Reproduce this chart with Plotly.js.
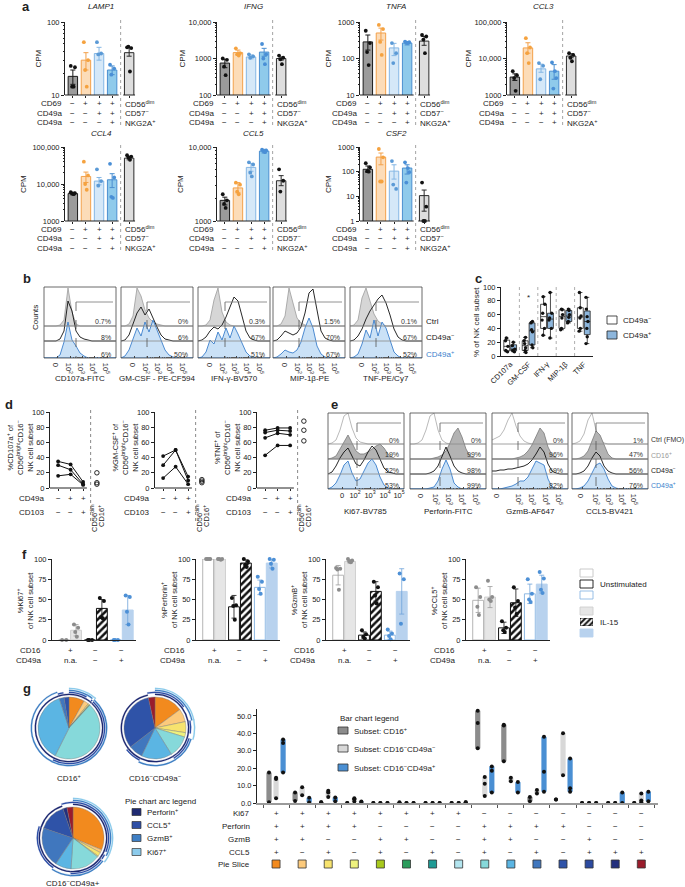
<!DOCTYPE html>
<html><head><meta charset="utf-8">
<script src="https://cdn.plot.ly/plotly-3.0.1.min.js"></script>
<style>html,body{margin:0;padding:0;background:#fff}#plot{width:685px;height:887px}</style>
</head><body><div id="plot"></div>
<script>
// ======================= DATA =======================
// ---- Panel a : CPM per subset (bars: CD69-, CD69+, CD69+CD49a+, CD69+CD49a+CD103+, CD56dim) ----
const aGenes = ['LAMP1','IFNG','TNFA','CCL3','CCL4','CCL5','CSF2'];
const aMean = [
  [18,30,37,22,38],
  [750,1450,1100,1500,1000],
  [285,500,195,265,300],
  [3100,19500,5200,4500,11700],
  [5500,16000,12000,13000,50000],
  [1900,2800,5300,8800,3500],
  [125,390,105,140,10.7]
];
const aErrHi = [
  [22,38,45,25,45],
  [950,1700,1250,1900,1100],
  [440,680,260,290,400],
  [3800,27000,7000,6800,13500],
  [6000,21000,15000,19000,56000],
  [2100,3300,6000,9300,4100],
  [170,570,190,190,18]
];
const aErrLo = [
  [14,22,30,19,34],
  [560,1250,980,1150,900],
  [170,320,120,235,230],
  [2500,14000,4200,2700,10500],
  [5100,11000,9500,8000,45000],
  [1650,2400,4700,8300,3000],
  [95,190,50,80,2.5]
];
const aDots = [
  [[25,24,13,13],[53,30,22,13],[53,37,36],[26,23,19],[45,44,46,21]],
  [[1000,920,600,350],[1900,1400,1300,1200],[1300,1150,1050],[2500,1300,1000,700],[1200,1050,950,700]],
  [[575,265,150,66],[830,640,285,125],[265,140,75],[290,280,270,265],[440,400,330,140]],
  [[4500,3500,2900,1300],[36000,20000,14000,7500],[7500,6300,2700],[7800,2900,1500,4500],[14000,12500,10500,8400]],
  [[6000,5700,5500,5300],[40000,17000,10000,7000],[25000,12000,9000],[35000,15000,4500,4200],[60000,55000,52000,45000]],
  [[2300,1900,1700,1500],[3300,3100,2500,2300],[6200,5800,4500,4000],[9200,9000,8800,8500],[5000,3500,2500]],
  [[220,150,105,100],[830,380,40,40],[270,20,30],[240,95,36,140],[36,3.8,1,1]]
];
const aTickVals = [[10,100],[100,1000,10000],[10,100,1000],[1000,10000,100000],[1000,10000,100000],[1000,10000],[1,10,100,1000]];
const aRanges = [[1,2],[2,4],[1,3],[3,5],[3,5],[3,4],[0,3]];
const aRowLabels = ['CD69','CD49a','CD49a'];
const aSigns = [['−','+','+','+'],['−','−','+','+'],['−','−','−','+']];
const aRefLabels = ['CD56<sup>dim</sup>','CD57<sup>−</sup>','NKG2A<sup>+</sup>'];

// ---- Panel b : flow histograms (heights on a fixed fluorescence grid) ----
const bChannels = ['CD107a-FITC','GM-CSF - PE-CF594','IFN-γ-BV570','MIP-1β-PE','TNF-PE/Cy7'];
const bPct = [['0.7%','8%','6%'],['0%','6%','50%'],['0.3%','67%','51%'],['1.5%','70%','67%'],['0.1%','67%','52%']];
const bRowNames = ['Ctrl','CD49a<sup>−</sup>','CD49a<sup>+</sup>'];
const bCtrl = [
  [0,0,0,0,1,6,38,14,2,0,0,0,0,0,0,0,0,0,0],
  [0,0,2,10,38,30,16,8,4,2,1,0,0,0,0,0,0,0,0],
  [0,0,1,6,26,38,14,4,1,0,0,0,0,0,0,0,0,0,0],
  [0,0,2,10,38,24,8,3,1,0,0,0,0,0,0,0,0,0,0],
  [0,1,6,28,38,24,12,5,2,0,0,0,0,0,0,0,0,0,0]
];
const bNeg = [
  [0,0,0,0,2,10,40,30,10,4,2,1,0,0,0,0,0,0,0],
  [0,1,6,16,28,34,26,32,22,14,6,2,1,0,0,0,0,0,0],
  [0,1,4,10,14,12,16,24,34,44,40,24,10,3,1,0,0,0,0],
  [0,1,5,10,8,6,8,14,28,48,52,30,10,3,1,0,0,0,0],
  [0,1,5,12,22,30,36,42,46,38,26,12,4,1,0,0,0,0,0]
];
const bPos = [
  [0,0,0,0,3,16,36,18,12,5,2,0,0,0,0,0,0,0,0],
  [0,2,8,20,30,22,36,26,38,28,18,8,3,1,0,0,0,0,0],
  [0,1,6,18,14,26,18,30,20,32,24,14,6,2,0,0,0,0,0],
  [0,1,4,8,6,5,8,16,30,40,30,12,4,1,0,0,0,0,0],
  [0,1,4,14,28,20,38,22,36,30,18,6,2,0,0,0,0,0,0]
];

// ---- Panel c : % of NK cell subset ----
const cCats = ['CD107a','GM-CSF','IFN-γ','MIP-1β','TNF'];
const cNeg = [[26,22,14,8,6],[27,22,18,12,8,5],[86,75,62,52,40,30],[68,67,60,55,40,38],[92,70,58,55,40,36]];
const cPos = [[20,15,10,8,6],[50,48,38,35,16,12],[92,62,55,52,40,26],[68,66,60,56,50,48],[85,68,57,50,40,28,18]];

// ---- Panel d : paired donors ----
const dCD49a = ['−','+','+'];
const dCD103 = ['−','−','+'];
const dCD107a = [[35,31,8],[30,24,5],[16,18,4]];
const dCD107aRef = [20,7,5];
const dGMCSF = [[42,50,15],[30,50,10],[13,28,5]];
const dGMCSFRef = [11,9,7];
const dTNF = [[76,79,79],[73,76,75],[66,72,70],[43,56,56]];
const dTNFRef = [88,76,62];
const dYLabels = ['%CD107a<sup>+</sup> of<br>CD56<sup>bright</sup>CD16<sup>−</sup><br>NK cell subset',
                  '%GM-CSF<sup>+</sup> of<br>CD56<sup>bright</sup>CD16<sup>−</sup><br>NK cell subset',
                  '%TNF<sup>+</sup> of<br>CD56<sup>bright</sup>CD16<sup>−</sup><br>NK cell subset'];

// ---- Panel e : flow histograms ----
const eChannels = ['Ki67-BV785','Perforin-FITC','GzmB-AF647','CCL5-BV421'];
const ePct = [['0%','19%','52%','53%'],['0%','99%','98%','99%'],['0%','96%','69%','82%'],['1%','47%','56%','76%']];
const eRowNames = ['Ctrl (FMO)','CD16<sup>+</sup>','CD49a<sup>−</sup>','CD49a<sup>+</sup>'];
const eCtrl = [
  [0,1,4,14,28,31,16,6,2,1,0,0,0,0,0,0,0,0,0,0],
  [0,0,1,4,14,28,31,14,4,1,0,0,0,0,0,0,0,0,0,0],
  [4,6,8,14,24,31,18,8,3,1,0,0,0,0,0,0,0,0,0,0],
  [0,1,3,10,24,31,14,5,1,0,0,0,0,0,0,0,0,0,0,0]
];
const eCD16 = [
  [0,1,3,10,18,24,16,8,5,5,7,10,13,15,11,5,2,0,0,0],
  [0,0,0,0,0,0,1,2,4,8,16,26,31,22,10,3,1,0,0,0],
  [0,0,0,0,0,0,1,2,4,8,14,22,31,26,12,4,1,0,0,0],
  [0,0,1,3,8,18,28,24,14,5,1,0,0,0,0,0,0,0,0,0]
];
const eNeg = [
  [0,2,8,16,22,26,18,10,8,14,22,28,24,14,6,2,1,0,0,0],
  [0,0,0,0,0,1,3,8,18,27,18,8,3,1,0,0,0,0,0,0],
  [3,3,4,4,5,5,6,7,8,10,14,20,27,22,10,3,1,0,0,0],
  [0,0,1,3,8,16,22,18,8,3,1,0,0,0,0,0,0,0,0,0]
];
const ePos = [
  [0,2,6,14,24,28,16,8,10,18,26,30,24,12,4,1,0,0,0,0],
  [0,0,0,0,0,1,2,8,20,29,20,6,2,0,0,0,0,0,0,0],
  [0,0,0,1,2,3,5,8,8,12,20,28,26,24,10,2,0,0,0,0],
  [0,0,1,3,8,16,24,26,20,10,3,1,0,0,0,0,0,0,0,0]
];

// ---- Panel f : unstimulated vs IL-15 ----
const fCD16 = ['+','−','−'];
const fCD49a = ['n.a.','−','+'];
const fYLabels = ['%Ki67<sup>+</sup><br>of NK cell subset','%Perforin<sup>+</sup><br>of NK cell subset','%GzmB<sup>+</sup><br>of NK cell subset','%CCL5<sup>+</sup><br>of NK cell subset'];
const fUnMean = [[0,0,0],[100,41,65],[80,6,6],[49,15,57]];
const fUnSd   = [[0,0,0],[0,14,9],[12,4,5],[15,7,12]];
const fIlMean = [[12,39,37],[100,95,95],[97,60,60],[53,46,69]];
const fIlSd   = [[7,11,18],[0,4,6],[2,12,28],[13,17,11]];
const fUnDots = [
  [[0,0],[0,0,0],[0,0,0]],
  [[100,100,100,100],[52,43,42,25],[78,72,63,57]],
  [[89,88,87,62],[12,7,4,2],[13,8,5,1]],
  [[65,53,41,31],[23,15,12,10],[75,57,50,47]]
];
const fIlDots = [
  [[19,15,10,4],[52,48,28,27],[55,53,35,19]],
  [[100,100,100,99],[100,97,93,90],[100,99,94,88]],
  [[100,98,97,96],[72,65,55,45],[82,75,20]],
  [[73,53,50,48],[65,48,40,32],[84,76,62,58]]
];

// ---- Panel g : Boolean combinations ----
const gKi67 = ['+','+','+','+','+','+','+','+','−','−','−','−','−','−','−'];
const gPerf = ['+','+','+','+','−','−','−','−','+','+','+','+','−','−','−'];
const gGzmB = ['+','+','−','−','+','+','−','−','+','+','−','−','+','−','−'];
const gCCL5 = ['+','−','+','−','+','−','+','−','+','−','+','−','+','+','+'];
const gSliceColors = ['#f28a1e','#fcca7c','#f7e36e','#eef27e','#a8c91c','#2b9c5c','#1f9b95','#b3e5ef','#86d9da','#5bb5e3','#4077be','#2f53a8','#2c4aa0','#232f7d','#9a1c2b'];
const gDotsCD16 = [[17.5,0.5],[6,1.2],[0.5,0.5],[0,0],[0,0],[0.5,0],[0,0],[0,0],[53,46,31.4],[45,44.5,24],[3.5,1],[2,2],[0,0],[0,0],[0,0]];
const gDotsNeg  = [[14.5,13.8,2.8],[9,4.5],[7,6,3.5],[2.8,2.2,0.8],[0,0],[0,0],[0,0],[0,0],[15,11,4],[14.5,12.5],[7.5,5.5],[40,16],[0,0],[0,0],[5.5,1.5,0.5]];
const gDotsPos  = [[36.5,34.5,17.5],[3,0.5],[3.2,1],[0.8,0.5],[0,0],[0,0],[0,0],[0.5,0.5],[21,18.5,6],[12,6],[38,18,6.5],[25.5,8.5,6.5],[0,0],[6,0],[6.5,1]];
const gPie1 = [8,2.5,0.6,0.3,0,0.2,0,0,45,37,2.5,2.5,0,0,0];
const gPie2 = [13,6,5,2,0,0,0,0,10,14,6.5,28,0,0,3];
const gPie3 = [30,1.5,2,0.5,0,0,0,0,15,8,20,14,0,2,3];
const gPieNames = ['CD16<sup>+</sup>','CD16<sup>−</sup>CD49a<sup>−</sup>','CD16<sup>−</sup>CD49a+'];
const gArcNames = ['Perforin<sup>+</sup>','CCL5<sup>+</sup>','GzmB<sup>+</sup>','Ki67<sup>+</sup>'];
const gSubsetNames = ['Subset: CD16<sup>+</sup>','Subset: CD16<sup>−</sup>CD49a<sup>−</sup>','Subset: CD16<sup>−</sup>CD49a<sup>+</sup>'];

// ======================= BUILD =======================
const W = 685, H = 887;
const FONT = 'Liberation Sans, Arial, Helvetica, sans-serif';
const INK = '#222';
const traces = [];
const layout = {width:W, height:H, margin:{l:0,r:0,t:0,b:0}, showlegend:false,
  paper_bgcolor:'#fff', plot_bgcolor:'rgba(0,0,0,0)', font:{family:FONT, size:8, color:INK},
  barmode:'overlay', boxmode:'group', boxgap:0.25, boxgroupgap:0.15, annotations:[], shapes:[]};
let nAx = 0;
function mkAx(x0,x1,top,bottom,xo,yo){
  nAx++; const s = nAx===1 ? '' : String(nAx);
  const base = {showgrid:false, zeroline:false, showline:false, ticks:'', showticklabels:false, fixedrange:true, tickfont:{size:7.5, color:INK, family:FONT}, linecolor:INK, tickcolor:INK};
  layout['xaxis'+s] = Object.assign({}, base, {domain:[x0/W, x1/W], anchor:'y'+s}, xo||{});
  layout['yaxis'+s] = Object.assign({}, base, {domain:[1-bottom/H, 1-top/H], anchor:'x'+s}, yo||{});
  return {x:'x'+s, y:'y'+s, s:s};
}
function T(px,py,text,o){o=o||{}; layout.annotations.push({x:px/W, y:1-py/H, xref:'paper', yref:'paper', text:text, showarrow:false, xanchor:o.xa||'center', yanchor:o.ya||'middle', textangle:o.ang||0, font:{family:FONT, size:o.sz||8, color:o.c||INK}});}
function TA(xid,xv,py,text,o){o=o||{}; layout.annotations.push({x:xv, xref:xid, y:1-py/H, yref:'paper', text:text, showarrow:false, xanchor:'center', yanchor:'middle', font:{family:FONT, size:o.sz||8, color:o.c||INK}});}
function L(x0,y0,x1,y1,o){o=o||{}; layout.shapes.push({type:'line', xref:'paper', yref:'paper', x0:x0/W, x1:x1/W, y0:1-y0/H, y1:1-y1/H, line:{color:o.c||INK, width:o.w||1, dash:o.d||'solid'}});}
function R(x0,y0,x1,y1,o){o=o||{}; layout.shapes.push({type:'rect', xref:'paper', yref:'paper', x0:x0/W, x1:x1/W, y0:1-y1/H, y1:1-y0/H, fillcolor:o.f||'rgba(0,0,0,0)', line:{color:o.c||INK, width:o.w==null?1:o.w}});}
function fmtN(v){return v>=10000 ? v.toLocaleString('en-US') : String(v);}
const supTicks = ['0','10<sup>2</sup>','10<sup>3</sup>','10<sup>4</sup>','10<sup>5</sup>'];

// panel letters
T(20,6,'<b>a</b>',{xa:'left',sz:13});
T(21,279,'<b>b</b>',{xa:'left',sz:13});
T(473,279,'<b>c</b>',{xa:'left',sz:13});
T(3,404,'<b>d</b>',{xa:'left',sz:13});
T(329,404,'<b>e</b>',{xa:'left',sz:13});
T(20,554,'<b>f</b>',{xa:'left',sz:13});
T(21,688,'<b>g</b>',{xa:'left',sz:13});

// ---------- Panel a ----------
const aCols = [65,217,360,507];
const aRows = [{top:22,bottom:95,t:7,tbl:[104,113,123]},{top:147,bottom:221,t:133,tbl:[229,238,248]}];
const aCpmOff = [27,35,32,39,42,37,32];
const aX = [0,1,2,3,4.3];
const aFill = ['#9b9b9b','#fcdcb8','#d5e8f8','#8fcaeb','#dedede'];
const aLine = ['#1a1a1a','#f3a04a','#84b6e4','#4b8fd0','#2a2a2a'];
const aDotCol = ['#111','#f5a23f','#5b9ad6','#4a8fd6','#111'];
const aJit = [-0.16,0.16,-0.06,0.06,0];
aGenes.forEach((gene,g)=>{
  const col = g<4 ? g : g-4, row = g<4 ? 0 : 1;
  const A = aCols[col], RW = aRows[row];
  const lo = aRanges[g][0], hi = aRanges[g][1];
  const minor = []; for(let d=lo; d<hi; d++) for(let k=2;k<10;k++) minor.push(k*Math.pow(10,d));
  const ax = mkAx(A, A+72, RW.top, RW.bottom,
    {range:[-0.6,4.9], ticks:'outside', ticklen:2, tickvals:aX},
    {type:'log', range:[lo,hi], tickmode:'array', tickvals:aTickVals[g], ticktext:aTickVals[g].map(fmtN), ticks:'outside', ticklen:3, showline:true, linewidth:1, showticklabels:true,
     minor:{tickmode:'array', tickvals:minor, ticks:'outside', ticklen:1.5, tickcolor:INK}});
  for(let i=0;i<5;i++){
    const m = aMean[g][i];
    traces.push({type:'bar', x:[aX[i]], y:[m], width:0.72, xaxis:ax.x, yaxis:ax.y, hoverinfo:'skip',
      marker:{color:aFill[i], line:{color:aLine[i], width:1}},
      error_y:{type:'data', symmetric:false, array:[aErrHi[g][i]-m], arrayminus:[m-aErrLo[g][i]], color:aLine[i], thickness:1, width:2.5}});
  }
  const dx=[], dy=[], dc=[];
  aDots[g].forEach((arr,i)=>arr.forEach((v,k)=>{dx.push(aX[i]+aJit[k%aJit.length]); dy.push(v); dc.push(aDotCol[i]);}));
  traces.push({type:'scatter', mode:'markers', x:dx, y:dy, marker:{color:dc, size:3.8}, xaxis:ax.x, yaxis:ax.y, cliponaxis:false, hoverinfo:'skip'});
  const yd = (ax.y)+' domain';
  layout.shapes.push({type:'line', xref:ax.x, yref:yd, x0:-0.6, x1:3.5, y0:0, y1:0, line:{color:INK, width:1}});
  layout.shapes.push({type:'line', xref:ax.x, yref:yd, x0:3.85, x1:4.75, y0:0, y1:0, line:{color:INK, width:1}});
  layout.shapes.push({type:'line', xref:ax.x, yref:'paper', x0:3.65, x1:3.65, y0:1-(RW.top-2)/H, y1:1-(RW.tbl[2]+4)/H, line:{color:'#9a9a9a', width:0.9, dash:'dot'}});
  T(A+36, RW.t, '<i>'+gene+'</i>', {sz:8});
  T(A-aCpmOff[g], (RW.top+RW.bottom)/2, 'CPM', {ang:-90, sz:8});
  aRowLabels.forEach((lab,r)=>{
    T(A-1, RW.tbl[r], lab, {xa:'right'});
    aSigns[r].forEach((sg,i)=>TA(ax.x, aX[i], RW.tbl[r], sg));
    T(A+58, RW.tbl[r], aRefLabels[r], {xa:'left'});
  });
});

// ---------- flow histogram helper ----------
function hist(ax, grid, base, h, fill, lineCol, lw){
  const ys = h.map(v=>base+v);
  if(fill){
    return {type:'scatter', mode:'lines', x:grid.concat([grid[grid.length-1], grid[0]]), y:ys.concat([base,base]), fill:'toself', fillcolor:fill, line:{color:lineCol, width:lw}, xaxis:ax.x, yaxis:ax.y, hoverinfo:'skip'};
  }
  return {type:'scatter', mode:'lines', x:grid, y:ys, line:{color:lineCol, width:lw}, xaxis:ax.x, yaxis:ax.y, hoverinfo:'skip'};
}
function decadeMinor(ticks){
  const out=[]; for(let d=1; d<ticks.length-1; d++){ const step=ticks[d+1]-ticks[d]; for(let k=2;k<10;k++) out.push(ticks[d]+Math.log10(k)*step); }
  return out;
}

// ---------- Panel b ----------
const bBoxX = [44,121,198,273,350], bW = 72, bTop = 287, bBot = 358;
const bBase = [32,17,0];
const bGate = [32,26,27,26,26];
const bTicks = [13,26,38,50,63];
const bGrid = []; for(let i=0;i<=72;i+=4) bGrid.push(i);
bBoxX.forEach((bx,k)=>{
  const ax = mkAx(bx, bx+bW, bTop, bBot,
    {range:[0,bW], tickvals:bTicks, ticktext:supTicks, ticks:'inside', ticklen:2, tickcolor:'#444', showticklabels:true,
     minor:{tickmode:'array', tickvals:decadeMinor(bTicks), ticks:'inside', ticklen:1.2, tickcolor:'#666'}},
    {range:[0,bBot-bTop]});
  traces.push(hist(ax,bGrid,bBase[0],bCtrl[k],'#d6d6d6','#9c9c9c',0.8));
  traces.push(hist(ax,bGrid,bBase[1],bNeg[k],null,'#111',0.9));
  traces.push(hist(ax,bGrid,bBase[2],bPos[k],'rgba(196,222,245,0.9)','#3b7fcc',0.9));
  R(bx,bTop,bx+bW,bBot,{c:'#444',w:0.8});
  L(bx,bBot-bBase[0],bx+bW,bBot-bBase[0],{c:'#8a8a8a',w:0.8});
  L(bx,bBot-bBase[1],bx+bW,bBot-bBase[1],{c:'#8a8a8a',w:0.8});
  const gx = bx+bGate[k];
  L(gx,302,gx,bBot,{c:'#555',w:0.8,d:'dash'});
  L(gx,302,bx+bW-3,302,{c:'#777',w:0.8});
  bPct[k].forEach((p,r)=>T(bx+bW-3, bBot-bBase[r]-4, p, {xa:'right', sz:7, c:'#333'}));
  T(bx+bW/2, 379, bChannels[k], {sz:8});
});
T(35,318,'Counts',{ang:-90,sz:8});
const bNameCol = [INK, INK, '#3b7fcc'];
bRowNames.forEach((n,r)=>T(424, bBot-bBase[r]-4, n, {xa:'left', c:bNameCol[r]}));

// ---------- Panel c ----------
const cAx = mkAx(501, 593, 287, 356,
  {type:'category', categoryorder:'array', categoryarray:cCats, range:[-0.5,4.5], showline:true, showticklabels:true, tickangle:-45, ticks:''},
  {range:[0,100], tickvals:[0,20,40,60,80,100], showline:true, ticks:'outside', ticklen:3, showticklabels:true});
function boxTrace(vals, fill){
  const xs=[], ys=[]; vals.forEach((arr,i)=>arr.forEach(v=>{xs.push(cCats[i]); ys.push(v);}));
  return {type:'box', x:xs, y:ys, fillcolor:fill, line:{color:INK, width:0.8}, boxpoints:'all', jitter:0.5, pointpos:0,
    marker:{color:'#111', size:3.4}, whiskerwidth:0.7, xaxis:cAx.x, yaxis:cAx.y, hoverinfo:'skip'};
}
traces.push(boxTrace(cNeg,'#ffffff'));
traces.push(boxTrace(cPos,'#8db6dc'));
for(let i=0;i<4;i++) layout.shapes.push({type:'line', xref:cAx.x, yref:'paper', x0:i+0.5, x1:i+0.5, y0:1-356/H, y1:1-287/H, line:{color:'#999', width:0.8, dash:'dot'}});
TA(cAx.x, 1, 298, '*', {sz:8});
T(477,322,'% of NK cell subset',{ang:-90,sz:8});
R(607,316,617,324,{f:'#fff',c:INK,w:0.8}); T(621,320,'CD49a<sup>−</sup>',{xa:'left'});
R(607,331,617,339,{f:'#8db6dc',c:INK,w:0.8}); T(621,335,'CD49a<sup>+</sup>',{xa:'left'});

// ---------- Panel d ----------
const dA = [50,155,257];
const dSeries = [dCD107a, dGMCSF, dTNF];
const dRefs = [dCD107aRef, dGMCSFRef, dTNFRef];
const dX = [0,1,2];
dA.forEach((A,k)=>{
  const ax = mkAx(A, A+55, 412, 488,
    {range:[-0.65,3.75], tickvals:dX, ticks:'outside', ticklen:2},
    {range:[0,100], tickvals:[0,20,40,60,80,100], showline:true, ticks:'outside', ticklen:3, showticklabels:true});
  layout.shapes.push({type:'line', xref:ax.x, yref:ax.y+' domain', x0:-0.65, x1:2.3, y0:0, y1:0, line:{color:INK, width:1}});
  dSeries[k].forEach(s=>traces.push({type:'scatter', mode:'lines+markers', x:dX, y:s, line:{color:'#111', width:1}, marker:{color:'#111', size:3.8}, xaxis:ax.x, yaxis:ax.y, cliponaxis:false, hoverinfo:'skip'}));
  traces.push({type:'scatter', mode:'markers', x:dRefs[k].map(()=>3.1), y:dRefs[k], marker:{symbol:'circle-open', color:'#111', size:4.5, line:{width:0.9}}, xaxis:ax.x, yaxis:ax.y, cliponaxis:false, hoverinfo:'skip'});
  layout.shapes.push({type:'line', xref:ax.x, yref:'paper', x0:2.6, x1:2.6, y0:1-410/H, y1:1-524/H, line:{color:'#888', width:1, dash:'dot'}});
  T(A-4, 498, 'CD49a', {xa:'right'});
  T(A-4, 512, 'CD103', {xa:'right'});
  dX.forEach(i=>{TA(ax.x, i, 498, dCD49a[i]); TA(ax.x, i, 512, dCD103[i]);});
  T(A+44, 518, 'CD56<sup>dim</sup>', {ang:-90, sz:7.5});
  T(A+51, 516, 'CD16<sup>+</sup>', {ang:-90, sz:7.5});
  T(A-30, 448, dYLabels[k], {ang:-90, sz:7.5});
});

// ---------- Panel e ----------
const eBoxX = [328,410,492,572], eW = 76, eTop = 413, eBot = 489;
const eBase = [45,30,15,0];
const eGate = [29,30,26,24];
const eTicks = [[14,27,42,57,71],[12,27,40,53,67],[6,28,41,55,68],[10,25,38,51,63]];
const eGrid = []; for(let i=0;i<=76;i+=4) eGrid.push(i);
eBoxX.forEach((bx,k)=>{
  const ax = mkAx(bx, bx+eW, eTop, eBot,
    {range:[0,eW], tickvals:eTicks[k], ticktext:supTicks, ticks:'inside', ticklen:2, tickcolor:'#444', showticklabels:true,
     minor:{tickmode:'array', tickvals:decadeMinor(eTicks[k]), ticks:'inside', ticklen:1.2, tickcolor:'#666'}},
    {range:[0,eBot-eTop]});
  traces.push(hist(ax,eGrid,eBase[0],eCtrl[k],null,'#a8a8a8',0.8));
  traces.push(hist(ax,eGrid,eBase[1],eCD16[k],'#b3b3b3','#7a7a7a',0.8));
  traces.push(hist(ax,eGrid,eBase[2],eNeg[k],null,'#111',0.9));
  traces.push(hist(ax,eGrid,eBase[3],ePos[k],'rgba(196,222,245,0.9)','#3b7fcc',0.9));
  R(bx,eTop,bx+eW,eBot,{c:'#444',w:0.8});
  for(let r=0;r<3;r++) L(bx,eBot-eBase[r],bx+eW,eBot-eBase[r],{c:'#8a8a8a',w:0.8});
  const gx = bx+eGate[k];
  L(gx,423,gx,eBot,{c:'#555',w:0.8,d:'dash'});
  L(gx,423,bx+eW-3,423,{c:'#777',w:0.8});
  ePct[k].forEach((p,r)=>T(bx+eW-3, eBot-eBase[r]-4, p, {xa:'right', sz:7, c:'#333'}));
  T(bx+eW/2, 511, eChannels[k], {sz:8});
});
const eNameCol = ['#333','#9a9a9a',INK,'#3b7fcc'];
eRowNames.forEach((n,r)=>T(649, eBot-eBase[r]-4, n, {xa:'left', c:eNameCol[r], sz:7}));

// ---------- Panel f ----------
const fA = [52,196,326,466];
const fUnLine = ['#b5b5b5','#111','#8db8e3'];
const fIlFill = ['#e6e6e6','#ffffff','#b8d2ee'];
const fIlLine = ['#cfcfcf','#111','#b8d2ee'];
const fDotCol = ['#8c8c8c','#111','#4d90d6'];
const fErrCol = ['#9a9a9a','#111','#6fa3da'];
const fOff = 0.23, fJit = [-0.08,0.08,-0.03,0.03];
fA.forEach((A,k)=>{
  const ax = mkAx(A, A+84, 559, 640,
    {range:[-0.7,2.55], showline:true},
    {range:[0,100], tickvals:[0,25,50,75,100], showline:true, ticks:'outside', ticklen:3, showticklabels:true});
  const dx=[], dy=[], dc=[];
  for(let g=0; g<3; g++){
    traces.push({type:'bar', x:[g-fOff], y:[fUnMean[k][g]], width:0.42, xaxis:ax.x, yaxis:ax.y, hoverinfo:'skip',
      marker:{color:'#fff', line:{color:fUnLine[g], width:1}},
      error_y:{type:'data', array:[fUnSd[k][g]], color:fErrCol[g], thickness:0.8, width:2.5}});
    const pat = g===1 ? {shape:'/', fgcolor:'#111', bgcolor:'#fff', size:5, solidity:0.5} : {shape:''};
    traces.push({type:'bar', x:[g+fOff], y:[fIlMean[k][g]], width:0.42, xaxis:ax.x, yaxis:ax.y, hoverinfo:'skip',
      marker:{color:fIlFill[g], line:{color:fIlLine[g], width:1}, pattern:pat},
      error_y:{type:'data', array:[fIlSd[k][g]], color:fErrCol[g], thickness:0.8, width:2.5}});
    fUnDots[k][g].forEach((v,j)=>{dx.push(g-fOff+fJit[j%4]); dy.push(v); dc.push(fDotCol[g]);});
    fIlDots[k][g].forEach((v,j)=>{dx.push(g+fOff+fJit[j%4]); dy.push(v); dc.push(fDotCol[g]);});
    TA(ax.x, g, 650, fCD16[g]);
    TA(ax.x, g, 660, fCD49a[g]);
  }
  traces.push({type:'scatter', mode:'markers', x:dx, y:dy, marker:{color:dc, size:4}, xaxis:ax.x, yaxis:ax.y, cliponaxis:false, hoverinfo:'skip'});
  T(A-9, 650, 'CD16', {xa:'right'});
  T(A-9, 660, 'CD49a', {xa:'right'});
  T(A-27, 600, fYLabels[k], {ang:-90, sz:7.5});
});
// f legend
R(580,569,593,577,{f:'#fff',c:'#c4c4c4',w:0.9});
R(580,580,593,588,{f:'#fff',c:'#111',w:0.9});
R(580,591,593,599,{f:'#fff',c:'#8db8e3',w:0.9});
T(598,584,'Unstimulated',{xa:'left'});
R(580,607,593,615,{f:'#e6e6e6',c:'#cfcfcf',w:0.9});
const hatchAx = mkAx(580,593,618,626,{range:[0,1]},{range:[0,1]});
traces.push({type:'bar', x:[0.5], y:[1], width:1, xaxis:hatchAx.x, yaxis:hatchAx.y, hoverinfo:'skip', marker:{color:'#fff', line:{color:'#111', width:0.9}, pattern:{shape:'/', fgcolor:'#111', bgcolor:'#fff', size:4, solidity:0.5}}});
R(580,629,593,637,{f:'#b8d2ee',c:'#b8d2ee',w:0.9});
T(598,622,'IL-15',{xa:'left'});

// ---------- Panel g : bar chart ----------
const gIdx = gKi67.map((_,i)=>i);
const gTickPos = []; for(let i=-0.5;i<=14.5;i+=1) gTickPos.push(i);
const gAx = mkAx(257, 658, 709, 803,
  {range:[-0.73,14.64], showline:true, linecolor:'#9a9a9a', linewidth:2, ticks:'outside', tickvals:gTickPos, ticklen:3, tickcolor:'#555', tickwidth:1},
  {range:[0,54], tickvals:[0,10,20,30,40,50], ticktext:['0.0','10.0','20.0','30.0','40.0','50.0'], showline:true, ticks:'outside', ticklen:3, showticklabels:true});
const gSets = [gDotsCD16, gDotsNeg, gDotsPos];
const gCols = ['#8c8c8c','#d8d8d8','#4a8fd3'];
const gOff = [-0.27,0,0.27];
gSets.forEach((set,s)=>{
  const mins = set.map(a=>Math.min.apply(null,a)), maxs = set.map(a=>Math.max.apply(null,a));
  traces.push({type:'bar', x:gIdx.map(i=>i+gOff[s]), base:mins, y:maxs.map((m,i)=>m-mins[i]), width:0.2, marker:{color:gCols[s], line:{width:0}}, xaxis:gAx.x, yaxis:gAx.y, hoverinfo:'skip'});
});
gSets.forEach((set,s)=>{
  const dx=[], dy=[]; set.forEach((a,i)=>a.forEach(v=>{dx.push(i+gOff[s]); dy.push(v);}));
  traces.push({type:'scatter', mode:'markers', x:dx, y:dy, marker:{color:'#111', size:4}, xaxis:gAx.x, yaxis:gAx.y, cliponaxis:false, hoverinfo:'skip'});
});
// table rows
const gRows = [['Ki67',gKi67,813],['Perforin',gPerf,826],['GzmB',gGzmB,839],['CCL5',gCCL5,852]];
gRows.forEach(r=>{ T(252, r[2], r[0], {xa:'right'}); r[1].forEach((sg,i)=>TA(gAx.x, i, r[2], sg)); });
T(252, 864, 'Pie Slice', {xa:'right'});
nAx++;
const sqY = 'y'+nAx;
layout['yaxis'+nAx] = {domain:[1-870/H, 1-858/H], anchor:gAx.x, range:[0,1], showgrid:false, zeroline:false, showline:false, ticks:'', showticklabels:false, fixedrange:true};
traces.push({type:'scatter', mode:'markers', x:gIdx, y:gIdx.map(()=>0.5), marker:{symbol:'square', size:8, color:gSliceColors, line:{color:'#333', width:0.8}}, xaxis:gAx.x, yaxis:sqY, cliponaxis:false, hoverinfo:'skip'});
// bar chart legend
T(338,718,'Bar chart legend',{xa:'left'});
gSubsetNames.forEach((n,s)=>{ const yy=[731,749,768][s]; R(338,yy-4,348,yy+3,{f:gCols[s],c:'#333',w:0.8}); T(352,yy,n,{xa:'left'}); });

// ---------- Panel g : pies with arcs ----------
const pieCenters = [[69,728],[155,728],[73,838]];
const pieLabelY = [778,778,883];
const pieVals = [gPie1,gPie2,gPie3];
const polarIds = ['polar','polar2','polar3'];
const arcSigns = [gPerf, gCCL5, gGzmB, gKi67];
const arcCols = ['#1f2a72','#2e4fa6','#3f7fc4','#8ccbec'];
const PIE_R = 31, ARC_T = 1.3, ARC_BASE = [33,35,37,39], PR = 41;
pieVals.forEach((vals,p)=>{
  const tot = vals.reduce((a,b)=>a+b,0);
  let cum = 0; const th=[], wd=[];
  vals.forEach(v=>{ th.push((cum+v/2)/tot*360); wd.push(v/tot*360); cum+=v; });
  const idx = gIdx.filter(i=>vals[i]>0);
  traces.push({type:'barpolar', subplot:polarIds[p], theta:idx.map(i=>th[i]), width:idx.map(i=>wd[i]), r:idx.map(()=>PIE_R),
    marker:{color:idx.map(i=>gSliceColors[i]), line:{color:'#777', width:0.4}}, hoverinfo:'skip'});
  arcSigns.forEach((signs,m)=>{
    const ids = idx.filter(i=>signs[i]==='+');
    traces.push({type:'barpolar', subplot:polarIds[p], theta:ids.map(i=>th[i]), width:ids.map(i=>wd[i]), base:ids.map(()=>ARC_BASE[m]), r:ids.map(()=>ARC_T),
      marker:{color:arcCols[m], line:{color:arcCols[m], width:0.2}}, hoverinfo:'skip'});
  });
  const c = pieCenters[p];
  layout[polarIds[p]] = {domain:{x:[(c[0]-PR)/W,(c[0]+PR)/W], y:[1-(c[1]+PR)/H, 1-(c[1]-PR)/H]}, bgcolor:'rgba(0,0,0,0)',
    radialaxis:{visible:false, range:[0,PR]}, angularaxis:{visible:false, rotation:90, direction:'clockwise'}, bargap:0};
  T(c[0], pieLabelY[p], gPieNames[p], {sz:8});
});
// pie legend
T(123,801,'Pie chart arc legend',{xa:'left'});
gArcNames.forEach((n,m)=>{ const yy=[812,825,838,852][m]; R(132,yy-3.5,141,yy+3.5,{f:arcCols[m],c:'#333',w:0.7}); T(145,yy,n,{xa:'left'}); });

Plotly.newPlot('plot', traces, layout, {staticPlot:true, displayModeBar:false});
</script>
</body></html>
